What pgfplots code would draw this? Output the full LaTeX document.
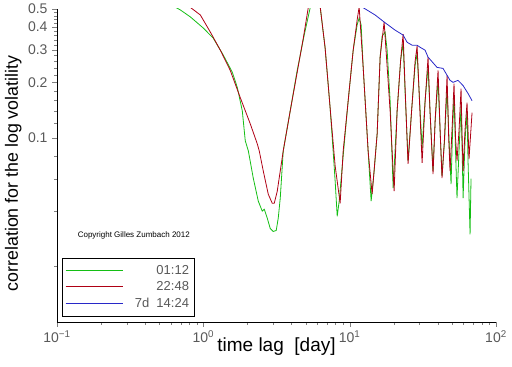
\documentclass[border=0pt]{standalone}
\usepackage{pgfplots}
\pgfplotsset{compat=1.18}
\usepackage{fontspec}
\setmainfont{Liberation Sans}
\definecolor{cgreen}{RGB}{20,190,20}
\definecolor{cred}{RGB}{175,0,20}
\definecolor{cblue}{RGB}{40,40,200}
\newcommand{\lgd}[1]{\makebox[64pt][r]{\textcolor{black!65}{#1}}}
\begin{document}
\begin{tikzpicture}
\begin{axis}[name=ax,
  scale only axis, width=439pt, height=313pt,
  xmode=log, ymode=log,
  xmin=0.1, xmax=100, ymin=0.01, ymax=0.5,
  axis x line*=bottom, axis y line*=left,
  tick align=outside,
  major tick length=5pt, minor tick length=3pt,
  xtick={0.1,1,10,100},
  xticklabels={10\textsuperscript{−1},10\textsuperscript{0},10\textsuperscript{1},10\textsuperscript{2}},
  minor xtick={0.2,0.3,0.4,0.5,0.6,0.7,0.8,0.9,2,3,4,5,6,7,8,9,20,30,40,50,60,70,80,90},
  ytick={0.1,0.2,0.3,0.4,0.5},
  yticklabels={0.1,0.2,0.3,0.4,0.5},
  minor ytick={0.02,0.04,0.06,0.08,0.12,0.14,0.16,0.18,0.22,0.24,0.26,0.28,0.32,0.34,0.36,0.38,0.42,0.44,0.46,0.48},
  tick label style={font=\fontsize{14}{16}\selectfont, text=black!65},
  yticklabel style={xshift=-1pt},
  xlabel={time lag\ \ [day]},
  ylabel={correlation for the log volatility},
  xlabel style={font=\fontsize{19}{22}\selectfont, at={(axis description cs:0.5,0)}, anchor=base, yshift=-29pt},
  ylabel style={font=\fontsize{17.8}{21}\selectfont, at={(axis description cs:0,0.5)}, anchor=base, yshift=39pt, xshift=-8pt},
  legend image code/.code={\draw[#1] (0pt,0pt) -- (57pt,0pt);},
  legend cell align=right,
  legend style={at={(rel axis cs:0,0)}, anchor=south west, xshift=5pt, yshift=6pt,
    draw=black, font=\fontsize{13}{15}\selectfont,
    inner xsep=3pt, inner ysep=5pt, row sep=1.7pt},
  every axis plot/.append style={line width=0.8pt},
]
\addplot[cgreen] coordinates {
(0.62,0.52) (0.697,0.494) (0.815,0.453) (1.0,0.394) (1.17,0.347) (1.369,0.281)
(1.577,0.227) (1.707,0.1875) (1.846,0.140) (1.935,0.0963) (2.03,0.0849)
(2.194,0.0604) (2.374,0.0453) (2.527,0.0400) (2.609,0.0409) (2.735,0.0366)
(2.865,0.0322) (3.005,0.0310) (3.149,0.0314) (3.25,0.0366) (3.355,0.047)
(3.516,0.0849) (3.925,0.140) (4.38,0.232) (4.89,0.361) (5.37,0.507) (5.8,0.6)
(6.29,0.513) (6.80,0.306) (7.36,0.144) (7.71,0.0849) (7.96,0.0582) (8.22,0.0375)
(8.48,0.0453) (9.03,0.08) (9.77,0.159) (10.57,0.299) (11.25,0.41) (11.61,0.447)
(11.98,0.409) (12.37,0.241) (13.37,0.0849) (14.02,0.0453) (14.7,0.066)
(15.41,0.105) (16.15,0.274) (16.67,0.356) (17.47,0.375) (18.03,0.299)
(18.9,0.159) (19.82,0.0533) (21.1,0.14) (22.3,0.263) (23.19,0.326) (23.9,0.181)
(25.06,0.0749) (26.5,0.14) (28.0,0.247) (28.89,0.288) (29.8,0.181) (31.26,0.088)
(32.75,0.159) (34.33,0.241) (35.4,0.14) (37.13,0.066) (38.4,0.124) (40.18,0.205)
(41.5,0.109) (42.76,0.062) (44.5,0.096) (46.30,0.185) (47.8,0.096) (49.30,0.0561)
(50.5,0.109) (51.66,0.170) (52.9,0.085) (54.14,0.047) (55.9,0.085) (57.7,0.150)
(58.7,0.085) (59.6,0.047) (61.4,0.096) (63.4,0.14) (64.4,0.075) (66.5,0.0299)
(67.5,0.06)
};
\addlegendentry{\lgd{01:12}}
\addplot[cred] coordinates {
(0.79,0.52) (0.954,0.464) (1.116,0.375) (1.306,0.299) (1.528,0.232) (1.789,0.165)
(2.093,0.119) (2.337,0.0927) (2.41,0.0849) (2.568,0.066) (2.778,0.0494)
(2.958,0.0441) (3.051,0.0441) (3.20,0.0513) (3.516,0.0849) (3.925,0.14)
(4.38,0.227) (4.82,0.347) (5.21,0.507) (5.8,0.62) (6.29,0.513) (6.80,0.306)
(7.36,0.144) (7.96,0.0703) (8.61,0.0441) (9.03,0.0849) (9.77,0.159) (10.57,0.299)
(11.25,0.436) (11.61,0.513) (12.37,0.241) (13.37,0.0849) (14.24,0.0494)
(15.41,0.105) (16.15,0.274) (17.20,0.425) (18.9,0.14) (20.13,0.0513) (21.1,0.14)
(22.3,0.263) (23.19,0.365) (23.9,0.19) (25.06,0.0721) (26.5,0.14) (28.0,0.26)
(28.89,0.314) (29.8,0.18) (31.26,0.0730) (32.75,0.155) (34.33,0.274) (35.4,0.14)
(37.13,0.0636) (38.4,0.125) (40.18,0.232) (41.5,0.11) (42.76,0.0604) (44.5,0.10)
(46.30,0.218) (47.5,0.1) (48.53,0.066) (50.3,0.12) (51.66,0.197) (52.9,0.1)
(54.14,0.0749) (55.9,0.11) (57.7,0.185) (58.7,0.1) (59.6,0.066) (61.4,0.11)
(63.4,0.155) (64.4,0.11) (65.4,0.0767) (68.6,0.137)
};
\addlegendentry{\lgd{22:48}}
\addplot[cblue] coordinates {
(11.80,0.52) (14.93,0.464) (17.20,0.425) (20.44,0.384) (23.19,0.361) (24.69,0.330)
(26.72,0.318) (28.89,0.318) (30.28,0.310) (32.75,0.299) (34.33,0.274) (39.55,0.241)
(43.45,0.238) (48.53,0.205) (50.87,0.200) (55.0,0.205) (59.6,0.192) (64.4,0.174)
(68.6,0.159)
};
\addlegendentry{\lgd{7d\ \ 14:24}}
\node[font=\fontsize{8}{9}\selectfont] at (rel axis cs:0.175,0.278) {Copyright Gilles Zumbach 2012};
\end{axis}
\pgfresetboundingbox
\path[use as bounding box] ([xshift=-57pt,yshift=-44pt]ax.south west) rectangle ([xshift=16pt,yshift=9pt]ax.north east);
\end{tikzpicture}
\end{document}
